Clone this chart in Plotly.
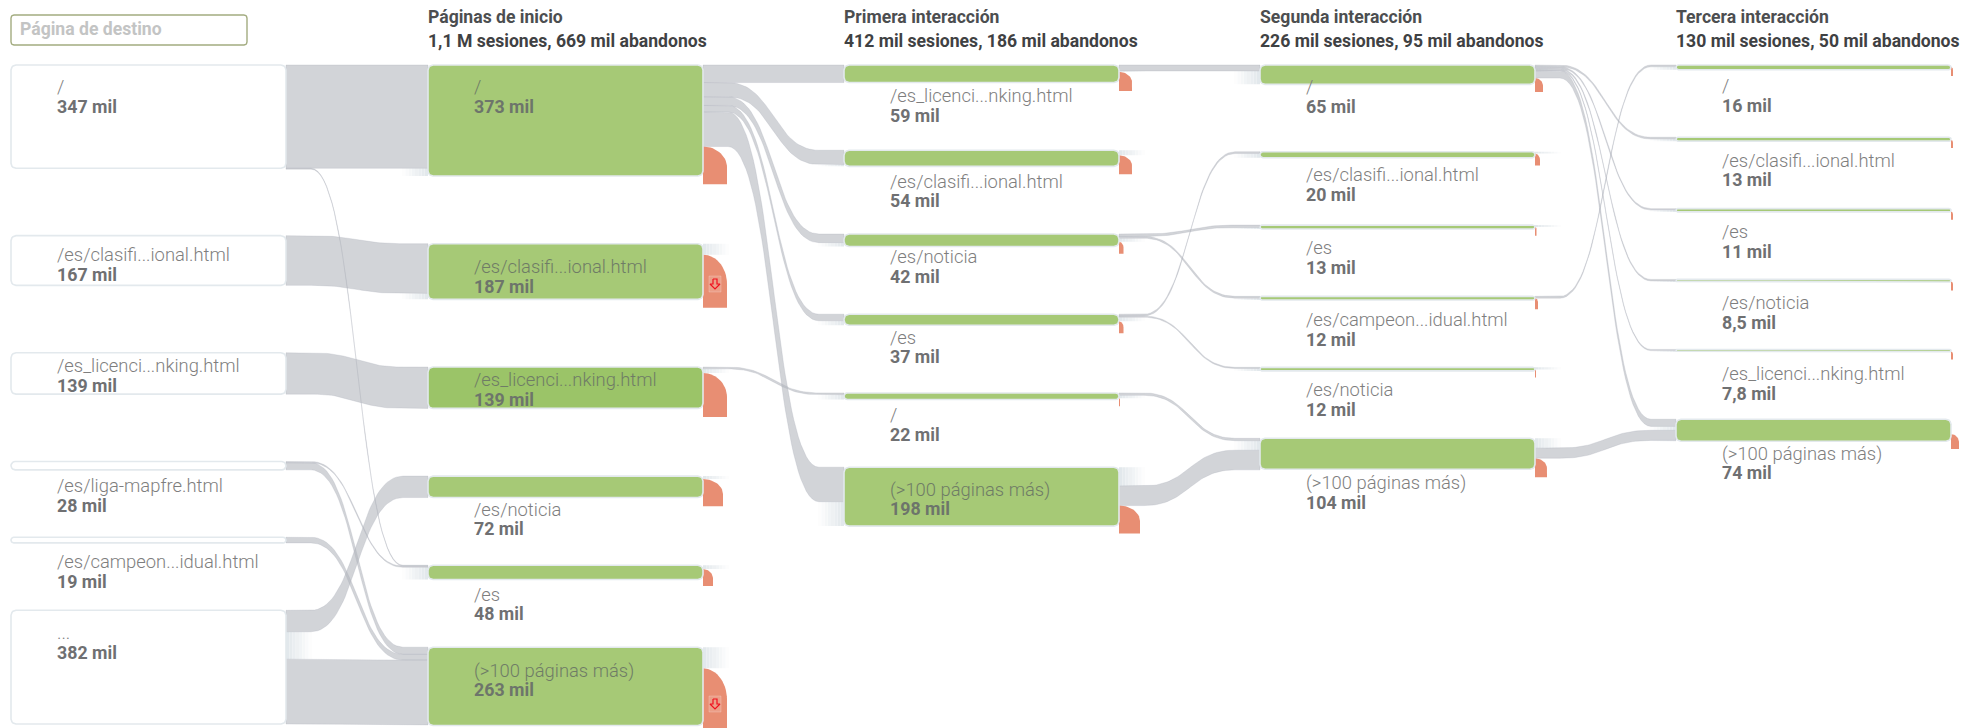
import numpy as np
import plotly.graph_objects as go

# ---------- data (thousands of sessions) ----------
col_titles = ["Páginas de inicio", "Primera interacción", "Segunda interacción", "Tercera interacción"]
col_subtitles = ["1,1 M sesiones, 669 mil abandonos", "412 mil sesiones, 186 mil abandonos",
                 "226 mil sesiones, 95 mil abandonos", "130 mil sesiones, 50 mil abandonos"]
search_label = "Página de destino"

names_0 = ["/", "/es/clasifi...ional.html", "/es_licenci...nking.html", "/es/liga-mapfre.html", "/es/campeon...idual.html", "..."]
names_1 = ["/", "/es/clasifi...ional.html", "/es_licenci...nking.html", "/es/noticia", "/es", "(>100 páginas más)"]
names_2 = ["/es_licenci...nking.html", "/es/clasifi...ional.html", "/es/noticia", "/es", "/", "(>100 páginas más)"]
names_3 = ["/", "/es/clasifi...ional.html", "/es", "/es/campeon...idual.html", "/es/noticia", "(>100 páginas más)"]
names_4 = ["/", "/es/clasifi...ional.html", "/es", "/es/noticia", "/es_licenci...nking.html", "(>100 páginas más)"]

values_0 = [347, 167, 139, 28, 19, 382]
values_1 = [373, 187, 139, 72, 48, 263]
values_2 = [59, 54, 42, 37, 22, 198]
values_3 = [65, 20, 13, 12, 12, 104]
values_4 = [16, 13, 11, 8.5, 7.8, 74]

value_labels_0 = ["347 mil", "167 mil", "139 mil", "28 mil", "19 mil", "382 mil"]
value_labels_1 = ["373 mil", "187 mil", "139 mil", "72 mil", "48 mil", "263 mil"]
value_labels_2 = ["59 mil", "54 mil", "42 mil", "37 mil", "22 mil", "198 mil"]
value_labels_3 = ["65 mil", "20 mil", "13 mil", "12 mil", "12 mil", "104 mil"]
value_labels_4 = ["16 mil", "13 mil", "11 mil", "8,5 mil", "7,8 mil", "74 mil"]

exits_1 = [127, 178, 148, 91, 57, 230]
exits_2 = [64, 64, 40, 40, 27, 94]
exits_3 = [47, 40, 30, 37, 27, 64]
exits_4 = [30, 27, 27, 30, 27, 50]

# flows: (source node, target node, thousands); None = flow not drawn as a ribbon
flows_01 = [(0, 0, 347), (0, 4, 3), (1, 1, 167), (2, 2, 139), (3, 4, 4), (3, 5, 24), (4, 5, 19),
            (5, 3, 72), (5, None, 92), (5, 5, 218)]
flows_12 = [(0, 0, 59), (0, 1, 48), (0, 2, 29), (0, 3, 22), (0, 5, 116), (1, None, 37), (2, 4, 6), (2, None, 14),
            (3, None, 10), (4, None, 13), (5, None, 71)]
flows_23 = [(0, 0, 20), (0, None, 3), (1, None, 17), (2, 2, 8), (2, 3, 6), (2, None, 12), (3, 1, 6), (3, 4, 4),
            (3, None, 14), (4, 5, 8), (4, None, 10), (None, 5, 32), (5, None, 63), (5, 5, 66)]
flows_34 = [(0, 1, 6), (0, 2, 5), (0, 3, 5), (0, 4, 4), (0, 5, 24), (1, None, 6), (2, None, 6), (3, 0, 6),
            (3, None, 0), (4, None, 7), (None, 5, 13), (5, None, 33), (5, 5, 34)]
last_col_hidden = [7, 9, 10, 7, 7, 50]

# ---------- layout and style ----------
W, H = 1984, 728
SCALE = 0.2976
COL_X = [11, 428, 844, 1260, 1676]
COL_W = 275
TOP = 65
COL_GAP = [67.4, 67.7, 67.7, 67.4, 67.5]
FLAT = 25
LABEL_PAD = 46
TEXT_SHIFT = 1.8
name_offsets = [[22, 19, 13, 24, 24, 22], [22, 23, 13, 33, 29, 23], [31, 31, 23, 23, 22, 22],
                [22, 23, 23, 23, 22, 44], [21, 23, 23, 23, 24, 34]]
exit_widths = [None, [24, 24, 24, 20, 10, 24], [13, 13, 4.5, 4.5, 1, 21], [8, 5, 1.5, 3, 1, 12], [2, 2, 2, 2, 2, 8]]
alert_nodes = [(1, 1), (1, 5)]
GREEN, GREEN_DARK = "#a6c976", "#9bc468"
NODE_EDGE = "#e3e9ed"
RIBBON = "rgba(178,181,188,0.58)"
RIBBON_EDGE = "rgba(170,173,182,0.45)"
EXIT = "#e88e73"
FONT = "Roboto"
SIZE_NAME, SIZE_VALUE, SIZE_HEAD = 18.4, 17.8, 17.6

names = [names_0, names_1, names_2, names_3, names_4]
values = [values_0, values_1, values_2, values_3, values_4]
value_labels = [value_labels_0, value_labels_1, value_labels_2, value_labels_3, value_labels_4]
exits = [None, exits_1, exits_2, exits_3, exits_4]
flows = [flows_01, flows_12, flows_23, flows_34]

# stack nodes of each column from their values
tops, bottoms = [], []
for vals, gap in zip(values, COL_GAP):
    y = TOP
    t, b = [], []
    for v in vals:
        t.append(y)
        y += v * SCALE
        b.append(y)
        y += gap
    tops.append(t)
    bottoms.append(b)


def rounded(x0, x1, y0, y1, r=5):
    r = min(r, (y1 - y0) / 2, (x1 - x0) / 2)
    a = np.linspace(0, np.pi / 2, 6)
    xs, ys = [], []
    for cx, cy, st in [(x1 - r, y0 + r, -np.pi / 2), (x1 - r, y1 - r, 0), (x0 + r, y1 - r, np.pi / 2), (x0 + r, y0 + r, np.pi)]:
        xs += list(cx + r * np.cos(a + st))
        ys += list(cy + r * np.sin(a + st))
    return xs + xs[:1], ys + ys[:1]


def band_edge(x0, x1, y0, y1):
    t = np.linspace(0, 1, 40)
    xa, xb = x0 + FLAT, x1 - FLAT
    mx = (xa + xb) / 2
    bx = (1 - t) ** 3 * xa + 3 * (1 - t) ** 2 * t * mx + 3 * (1 - t) * t ** 2 * mx + t ** 3 * xb
    by = (1 - t) ** 3 * y0 + 3 * (1 - t) ** 2 * t * y0 + 3 * (1 - t) * t ** 2 * y1 + t ** 3 * y1
    return [x0] + list(bx) + [x1], [y0] + list(by) + [y1]


fig = go.Figure()
grad_steps = 8
grad = [([], []) for _ in range(grad_steps)]


def pale(x_solid, x_clear, y0, y1):
    if y1 - y0 <= 0.2:
        return
    for i in range(grad_steps):
        a = x_solid + (x_clear - x_solid) * i / grad_steps
        b = x_solid + (x_clear - x_solid) * (i + 1) / grad_steps
        gx, gy = grad[i]
        gx += [a, b, b, a, a, None]
        gy += [y0, y0, y1, y1, y0, None]


exit_top = [list(t) for t in tops]
ribbons = []
for c, step in enumerate(flows):
    src_cur = list(tops[c])
    tgt_cur = list(tops[c + 1])
    xs = COL_X[c] + COL_W
    xt = COL_X[c + 1]
    for s, t, v in step:
        h = v * SCALE
        if s is None:
            pale(xt, xt - 26, tgt_cur[t], tgt_cur[t] + h)
            tgt_cur[t] += h
        elif t is None:
            pale(xs, xs + 26, src_cur[s], src_cur[s] + h)
            src_cur[s] += h
        else:
            ex0, ey0 = band_edge(xs, xt, src_cur[s], tgt_cur[t])
            ex1, ey1 = band_edge(xs, xt, src_cur[s] + h, tgt_cur[t] + h)
            ribbons.append((ex0 + ex1[::-1] + ex0[:1], ey0 + ey1[::-1] + ey0[:1]))
            src_cur[s] += h
            tgt_cur[t] += h
    for i, y in enumerate(tgt_cur):
        pale(xt, xt - 26, y, bottoms[c + 1][i])
    exit_top[c] = src_cur
exit_top[4] = [t + h * SCALE for t, h in zip(tops[4], last_col_hidden)]

for i in range(grad_steps):
    k = (grad_steps - i - 0.5) / grad_steps
    col = "rgb({},{},{})".format(int(255 - 30 * k), int(255 - 24 * k), int(255 - 20 * k))
    fig.add_trace(go.Scatter(x=grad[i][0], y=grad[i][1], mode="lines", fill="toself", fillcolor=col,
                             line=dict(width=0), hoverinfo="skip", showlegend=False))
for rx, ry in ribbons:
    fig.add_trace(go.Scatter(x=rx, y=ry, mode="lines", fill="toself", fillcolor=RIBBON,
                             line=dict(width=0.6, color=RIBBON_EDGE), hoverinfo="skip", showlegend=False))

# exits
for c in range(1, 5):
    x0 = COL_X[c] + COL_W
    for i, v in enumerate(exits[c]):
        w = exit_widths[c][i]
        y0 = exit_top[c][i]
        h = v * SCALE
        r = min(h * 0.55, w * 1.3)
        a = np.linspace(0, np.pi / 2, 16)
        ex = [x0] + list(x0 + w * np.sin(a)) + [x0 + w, x0, x0]
        ey = [y0] + list(y0 + r * (1 - np.cos(a))) + [y0 + h, y0 + h, y0]
        fig.add_trace(go.Scatter(x=ex, y=ey, mode="lines", fill="toself", fillcolor=EXIT,
                                 line=dict(width=0), hoverinfo="skip", showlegend=False))
        if (c, i) in alert_nodes:
            cx = x0 + w / 2
            cy = 284 if i == 1 else 704
            bx = [cx - 6, cx + 6, cx + 6, cx - 6, cx - 6]
            by = [cy - 8, cy - 8, cy + 8, cy + 8, cy - 8]
            fig.add_trace(go.Scatter(x=bx, y=by, mode="lines", fill="toself", fillcolor="rgba(255,255,255,0.15)",
                                     line=dict(width=0.6, color="rgba(255,255,255,0.35)"), hoverinfo="skip", showlegend=False))
            ax = [cx - 2, cx + 2, cx + 2, cx + 5, cx, cx - 5, cx - 2, cx - 2]
            ay = [cy - 5, cy - 5, cy, cy, cy + 5, cy, cy, cy - 5]
            fig.add_trace(go.Scatter(x=ax, y=ay, mode="lines", line=dict(width=1.2, color="#f0101f"),
                                     hoverinfo="skip", showlegend=False))

# nodes
for c in range(5):
    for i in range(6):
        nx, ny = rounded(COL_X[c], COL_X[c] + COL_W, tops[c][i], bottoms[c][i])
        fill = "#ffffff" if c == 0 else (GREEN_DARK if (c, i) == (1, 2) else GREEN)
        fig.add_trace(go.Scatter(x=nx, y=ny, mode="lines", fill="toself", fillcolor=fill,
                                 line=dict(width=1.6, color=NODE_EDGE), hoverinfo="skip", showlegend=False))

# node labels
lab_x, lab_y, val_y, lab_c, val_c, lab_t, val_t = [], [], [], [], [], [], []
for c in range(5):
    for i in range(6):
        off = name_offsets[c][i] + TEXT_SHIFT
        inside = c > 0 and off + 24 < bottoms[c][i] - tops[c][i]
        lab_x.append(COL_X[c] + LABEL_PAD)
        lab_y.append(tops[c][i] + off)
        val_y.append(tops[c][i] + off + 20)
        lab_c.append("#6f7c66" if inside else "#7e7e7e")
        val_c.append("#6d756b" if inside else "#6f7072")
        lab_t.append(names[c][i])
        val_t.append(value_labels[c][i])
fig.add_trace(go.Scatter(x=lab_x, y=lab_y, mode="text", text=lab_t, textposition="middle right", hoverinfo="skip",
                         showlegend=False, textfont=dict(family=FONT, size=SIZE_NAME, color=lab_c, weight=300)))
fig.add_trace(go.Scatter(x=lab_x, y=val_y, mode="text", text=val_t, textposition="middle right", hoverinfo="skip",
                         showlegend=False, textfont=dict(family=FONT, size=SIZE_VALUE, color=val_c, weight=700)))

# column headers
fig.add_trace(go.Scatter(x=COL_X[1:], y=[17 + TEXT_SHIFT] * 4, mode="text", text=col_titles, textposition="middle right", hoverinfo="skip",
                         showlegend=False, textfont=dict(family=FONT, size=SIZE_HEAD, color="#4c4e50", weight=700)))
fig.add_trace(go.Scatter(x=COL_X[1:], y=[41 + TEXT_SHIFT] * 4, mode="text", text=col_subtitles, textposition="middle right", hoverinfo="skip",
                         showlegend=False, textfont=dict(family=FONT, size=SIZE_HEAD, color="#3f4143", weight=700)))

# search box
sx, sy = rounded(11, 247, 15, 45, 3)
fig.add_trace(go.Scatter(x=sx, y=sy, mode="lines", fill="toself", fillcolor="#ffffff",
                         line=dict(width=1.4, color="#a3ac80"), hoverinfo="skip", showlegend=False))
fig.add_trace(go.Scatter(x=[20], y=[29 + TEXT_SHIFT], mode="text", text=[search_label], textposition="middle right", hoverinfo="skip",
                         showlegend=False, textfont=dict(family=FONT, size=SIZE_HEAD, color="#c3c4c4", weight=700)))

fig.update_layout(width=W, height=H, margin=dict(l=0, r=0, t=0, b=0), paper_bgcolor="#ffffff", plot_bgcolor="#ffffff",
                  xaxis=dict(range=[0, W], visible=False, fixedrange=True),
                  yaxis=dict(range=[H, 0], visible=False, fixedrange=True), showlegend=False)
fig.write_html("out.html", config={"displayModeBar": False},
               post_script="document.body.style.margin='0';document.body.style.overflow='hidden';")
